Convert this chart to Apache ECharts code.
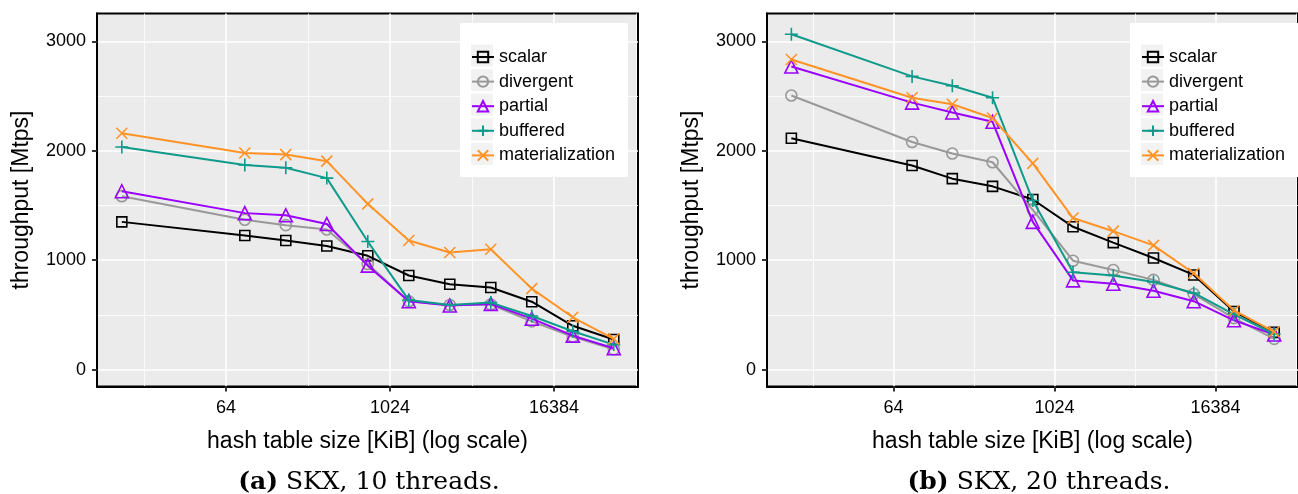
<!DOCTYPE html>
<html>
<head>
<meta charset="utf-8">
<script src="https://cdn.jsdelivr.net/npm/echarts@6/dist/echarts.min.js"></script>
<style>
  html, body { margin: 0; padding: 0; background: #fff; }
  #chart { width: 1298px; height: 494px; }
</style>
</head>
<body>
<div id="chart"></div>
<script>
// hash table sizes in KiB (same for both panels)
const sizes = [11, 88, 176, 352, 704, 1408, 2816, 5632, 11264, 22528, 45056];

// (a) SKX, 10 threads -- throughput in Mtps
const scalarA = [1350, 1225, 1180, 1130, 1040, 860, 780, 750, 620, 400, 275];
const divergentA = [1585, 1370, 1320, 1280, 965, 625, 590, 595, 440, 300, 185];
const partialA = [1630, 1430, 1410, 1330, 950, 625, 585, 600, 465, 310, 195];
const bufferedA = [2035, 1870, 1845, 1750, 1170, 635, 590, 612, 490, 350, 228];
const materializationA = [2160, 1980, 1965, 1905, 1515, 1180, 1070, 1100, 740, 478, 280];

// (b) SKX, 20 threads
const scalarB = [2115, 1865, 1745, 1675, 1555, 1305, 1160, 1020, 865, 530, 340];
const divergentB = [2505, 2080, 1975, 1895, 1460, 995, 910, 820, 690, 470, 280];
const partialB = [2770, 2440, 2350, 2265, 1350, 815, 785, 720, 625, 450, 320];
const bufferedB = [3065, 2680, 2595, 2485, 1545, 890, 860, 800, 700, 505, 325];
const materializationB = [2835, 2485, 2425, 2300, 1885, 1385, 1265, 1135, 880, 540, 345];

const xMajorTicks = [64, 1024, 16384];
const xMinorTicks = [16, 256, 4096, 65536];
const yMajorTicks = [0, 1000, 2000, 3000];
const yMinorTicks = [500, 1500, 2500];
const seriesNames = ['scalar', 'divergent', 'partial', 'buffered', 'materialization'];
const captions = ['(a)', '(b)'];
const captionText = [' SKX, 10 threads.', ' SKX, 20 threads.'];

const styles = {
  scalar: { color: '#000000', symbol: 'rect', size: 10 },
  divergent: { color: '#999999', symbol: 'circle', size: 11 },
  partial: { color: '#9b00ff', symbol: 'triangle', size: 13 },
  buffered: { color: '#0f9a8b', symbol: 'path://M5,0L5,10M0,5L10,5', size: 13 },
  materialization: { color: '#ff9326', symbol: 'path://M0,0L10,10M10,0L0,10', size: 11 }
};

const panels = [
  [scalarA, divergentA, partialA, bufferedA, materializationA],
  [scalarB, divergentB, partialB, bufferedB, materializationB]
];

const sansFont = 'Liberation Sans, Arial, sans-serif';
const xMin = 7.23, xMax = 67870;
const yMin = -155, yMax = 3255;
const panelLeft = [97, 767];
const plain = v => String(v);

const grid = [], xAxis = [], yAxis = [], series = [], legend = [], graphic = [];

panels.forEach((panel, p) => {
  grid.push({
    left: panelLeft[p], top: 13.5, width: 541, height: 373,
    show: true, backgroundColor: '#ebebeb', borderColor: '#000', borderWidth: 2
  });
  // major x axis
  xAxis.push({
    type: 'log', logBase: 2, gridIndex: p, min: xMin, max: xMax, position: 'bottom',
    name: 'hash table size [KiB] (log scale)', nameLocation: 'middle', nameGap: 44,
    nameTextStyle: { fontFamily: sansFont, fontSize: 23, color: '#000' },
    axisLine: { show: true, onZero: false, lineStyle: { color: '#000', width: 2 } },
    axisTick: { show: true, length: 5, customValues: xMajorTicks, lineStyle: { color: '#333', width: 2 } },
    axisLabel: { customValues: xMajorTicks, formatter: plain, margin: 13, fontFamily: sansFont, fontSize: 18, color: '#000' },
    splitLine: { show: true, lineStyle: { color: '#fff', width: 1.6 } }
  });
  // minor x axis (grid lines only), parked on the top edge
  xAxis.push({
    type: 'log', logBase: 2, gridIndex: p, min: xMin, max: xMax, position: 'top',
    axisLine: { show: false, onZero: false }, axisLabel: { show: false },
    axisTick: { show: false, customValues: xMinorTicks },
    splitLine: { show: true, lineStyle: { color: '#fff', width: 0.8 } }
  });
  yAxis.push({
    type: 'value', gridIndex: p, min: yMin, max: yMax, position: 'left',
    name: 'throughput [Mtps]', nameLocation: 'middle', nameGap: 64,
    nameTextStyle: { fontFamily: sansFont, fontSize: 23, color: '#000' },
    axisLine: { show: true, onZero: false, lineStyle: { color: '#000', width: 2 } },
    axisTick: { show: true, length: 5, customValues: yMajorTicks, lineStyle: { color: '#333', width: 2 } },
    axisLabel: { customValues: yMajorTicks, formatter: plain, margin: 11, fontFamily: sansFont, fontSize: 18, color: '#000' },
    splitLine: { show: true, lineStyle: { color: '#fff', width: 1.6 } }
  });
  // minor y axis (grid lines only), parked on the right edge
  yAxis.push({
    type: 'value', gridIndex: p, min: yMin, max: yMax, position: 'right',
    axisLine: { show: false, onZero: false }, axisLabel: { show: false },
    axisTick: { show: false, customValues: yMinorTicks },
    splitLine: { show: true, lineStyle: { color: '#fff', width: 0.8 } }
  });

  panel.forEach((values, i) => {
    const name = seriesNames[i];
    const st = styles[name];
    series.push({
      name: name, type: 'line',
      xAxisIndex: p * 2, yAxisIndex: p * 2,
      data: sizes.map((s, k) => [s, values[k]]),
      symbol: st.symbol, symbolSize: st.size, showAllSymbol: true,
      lineStyle: { color: st.color, width: 2 },
      itemStyle: { color: 'transparent', borderColor: st.color, borderWidth: 1.6 },
      emphasis: { disabled: true },
      z: 3 + i
    });
  });

  // legend box + grey key backgrounds
  const boxLeft = 460 + p * 670;
  graphic.push({
    type: 'rect', z: 5, silent: true,
    shape: { x: boxLeft, y: 23, width: 168, height: 154 },
    style: { fill: '#fff' }
  });
  seriesNames.forEach((n, i) => {
    graphic.push({
      type: 'rect', z: 6, silent: true,
      shape: { x: boxLeft + 11, y: 44.5 + i * 24.6, width: 22, height: 22 },
      style: { fill: '#f2f2f2' }
    });
  });
  legend.push({
    data: seriesNames, orient: 'vertical',
    left: boxLeft + 11, top: 48, padding: 0,
    itemWidth: 22, itemHeight: 13, itemGap: 6.6,
    textStyle: { fontFamily: sansFont, fontSize: 18, color: '#000' },
    selectedMode: false, z: 10
  });

  // sub-caption
  graphic.push({
    type: 'text', z: 10, silent: true,
    style: {
      x: panelLeft[p] + 272, y: 482,
      text: '{b|' + captions[p] + '}' + captionText[p],
      textAlign: 'center', textVerticalAlign: 'middle',
      fontFamily: 'DejaVu Serif', fontSize: 25, fill: '#000',
      rich: { b: { fontFamily: 'DejaVu Serif', fontSize: 25, fontWeight: 'bold', fill: '#000' } }
    }
  });
});

const chart = echarts.init(document.getElementById('chart'), null, { renderer: 'canvas' });
chart.setOption({
  animation: false,
  backgroundColor: '#fff',
  grid: grid,
  xAxis: xAxis,
  yAxis: yAxis,
  legend: legend,
  graphic: graphic,
  series: series
});
</script>
</body>
</html>
